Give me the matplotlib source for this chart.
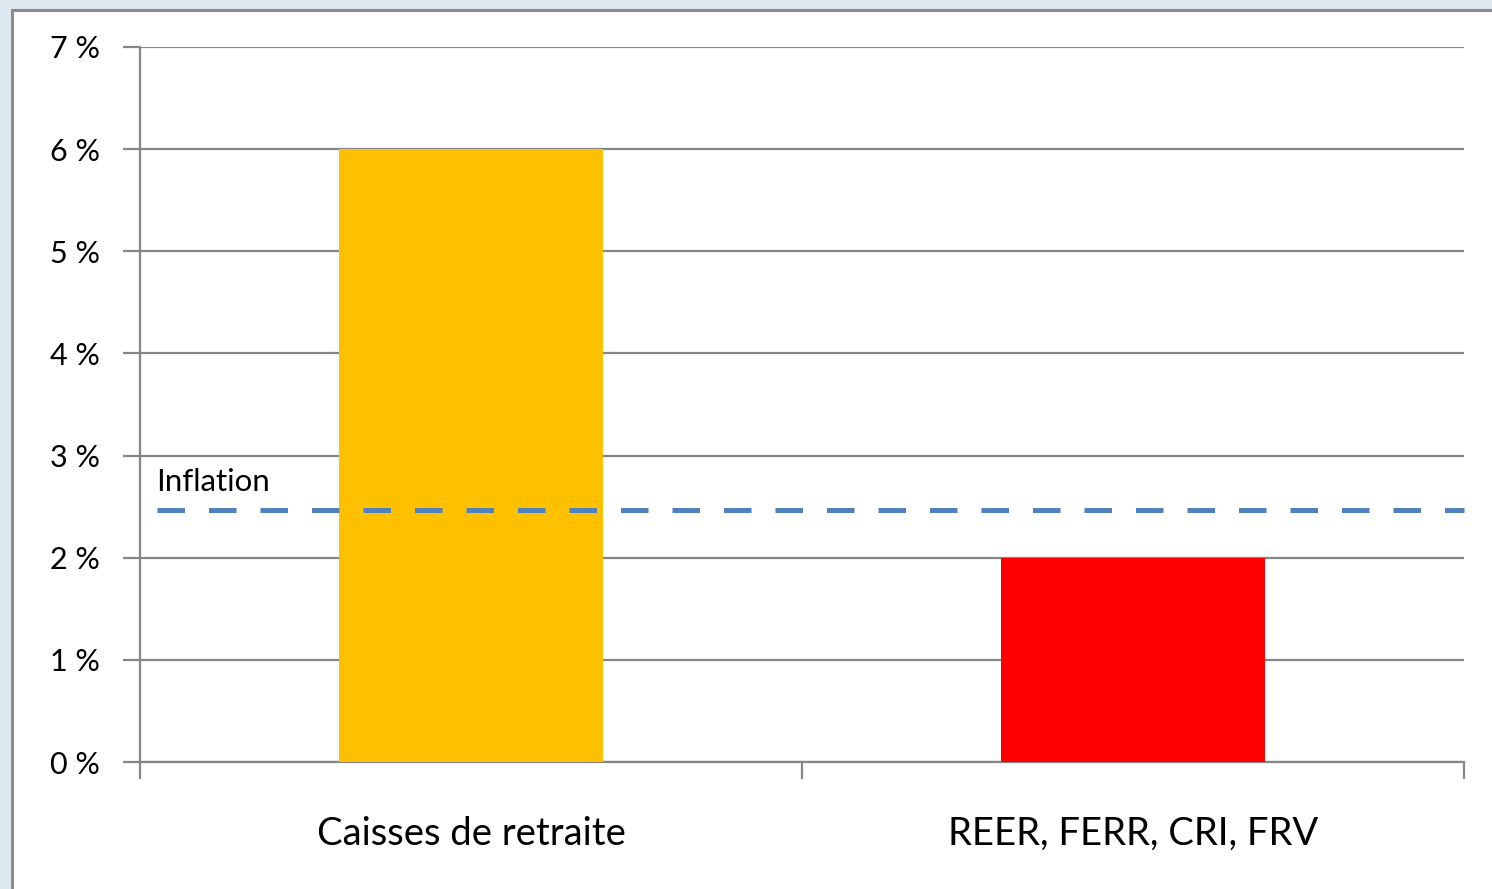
import matplotlib
matplotlib.use("Agg")
import matplotlib.pyplot as plt
from matplotlib.patches import Rectangle

categories = ["Caisses de retraite", "REER, FERR, CRI, FRV"]
values = [6.0, 2.0]
bar_colors = ["#FFC000", "#FF0000"]
inflation = 2.47
yticks = [0, 1, 2, 3, 4, 5, 6, 7]
ytick_labels = [f"{v} %" for v in yticks]

W, H = 1492, 889
fig = plt.figure(figsize=(W / 100, H / 100), dpi=100)
fig.patch.set_facecolor("#DDE8F0")
panel = Rectangle((12 / W, 0 - 0.01), 1.1, 1 - 10 / H + 0.01, transform=fig.transFigure,
                  facecolor="white", edgecolor="#8C8C8C", linewidth=2.2, zorder=-5)
fig.patches.append(panel)

ax = fig.add_axes([140 / W, 1 - 762 / H, (1464 - 140) / W, (762 - 47) / H])
ax.set_zorder(2)
ax.set_facecolor("none")
x = list(range(len(categories)))
ax.bar(x, values, width=0.4, color=bar_colors, zorder=3)
ax.set_xlim(-0.5, 1.5)
ax.set_ylim(0, 7)
ax.set_yticks(yticks)
ax.set_yticklabels(ytick_labels, fontsize=22, family="Lato")
ax.yaxis.grid(True, color="#868686", linewidth=1.6, zorder=0)
ax.set_axisbelow(True)
ax.set_xticks([-0.5, 0.5, 1.5], minor=False)
ax.set_xticklabels([])
ax.set_xticks(x, minor=True)
ax.set_xticklabels(categories, minor=True, fontsize=27.5, family="Lato")
ax.tick_params(axis="x", which="minor", length=0, pad=39)
ax.tick_params(axis="x", which="major", length=12, width=1.6, color="#868686")
ax.tick_params(axis="y", length=12, width=1.6, color="#868686", pad=17)
for s in ["top", "right"]:
    ax.spines[s].set_visible(False)
for s in ["left", "bottom"]:
    ax.spines[s].set_color("#868686")
    ax.spines[s].set_linewidth(1.6)

ax.plot([-0.475, 1.5], [inflation, inflation], color="#4F81BD", linewidth=3.6,
        linestyle=(0, (5.5, 4.8)), zorder=4, clip_on=False)
ax.text(-0.476, inflation + 0.13, "Inflation", fontsize=22.5, family="Lato",
        ha="left", va="bottom")

fig.savefig("out.png", dpi=100, facecolor=fig.get_facecolor())
